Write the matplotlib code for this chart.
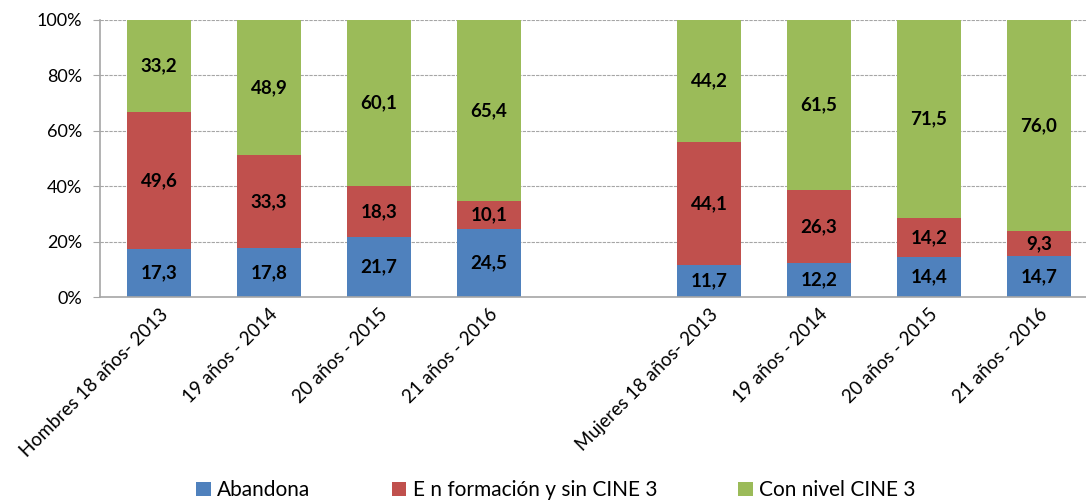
import matplotlib.pyplot as plt
import numpy as np

plt.rcParams['font.family'] = ['Lato', 'DejaVu Sans']

categories = ['Hombres 18 años- 2013', '19 años - 2014', '20 años - 2015', '21 años - 2016', '',
              'Mujeres 18 años- 2013', '19 años - 2014', '20 años - 2015', '21 años - 2016']
series = ['Abandona', 'E n formación y sin CINE 3', 'Con nivel CINE 3']
abandona = [17.3, 17.8, 21.7, 24.5, np.nan, 11.7, 12.2, 14.4, 14.7]
formacion = [49.6, 33.3, 18.3, 10.1, np.nan, 44.1, 26.3, 14.2, 9.3]
con_nivel = [33.2, 48.9, 60.1, 65.4, np.nan, 44.2, 61.5, 71.5, 76.0]
colors = ['#4F81BD', '#C0504D', '#9BBB59']

data = np.array([abandona, formacion, con_nivel])
totals = data.sum(axis=0)
shares = data / totals * 100

fig = plt.figure(figsize=(10.86, 5.04), dpi=100)
# plot area runs past the right edge, as in the cropped original
ax = fig.add_axes([100 / 1086, 1 - 297 / 504, 994 / 1086, 277 / 504])

x = np.arange(len(categories))
bottom = np.zeros(len(categories))
handles = []
for i in range(3):
    vals = np.nan_to_num(shares[i])
    h = ax.bar(x, vals, 0.58, bottom=bottom, color=colors[i], label=series[i], zorder=2)
    handles.append(h)
    for j in range(len(categories)):
        if not np.isnan(data[i, j]):
            ax.text(x[j], bottom[j] + vals[j] / 2, f'{data[i, j]:.1f}'.replace('.', ','),
                    ha='center', va='center', fontsize=13.5, fontweight='bold', color='black')
    bottom += vals

ax.set_xlim(-0.536, len(categories) - 0.5)
ax.set_ylim(0, 100)
ax.set_yticks(np.arange(0, 101, 20))
ax.set_yticklabels([f'{v}%' for v in range(0, 101, 20)], fontsize=13)
ax.yaxis.grid(True, color='#a6a6a6', linestyle=(0, (3, 1)), linewidth=0.8, zorder=0)
ax.tick_params(axis='y', length=5, color='#a6a6a6', pad=8)
ax.tick_params(axis='x', length=0, pad=6)
ax.set_xticks(x)
ax.set_xticklabels(categories, rotation=45, ha='right', rotation_mode='anchor', fontsize=13.5)
for s in ['top', 'right']:
    ax.spines[s].set_visible(False)
for s in ['left', 'bottom']:
    ax.spines[s].set_color('#a6a6a6')
    ax.spines[s].set_linewidth(1.2)

fig.legend(handles=handles, labels=series, loc='lower center', bbox_to_anchor=(0.512, -0.03),
           ncol=3, frameon=False, fontsize=15, handlelength=0.7, handleheight=0.7,
           handletextpad=0.3, columnspacing=3.9)

fig.savefig('out.png', dpi=100)
